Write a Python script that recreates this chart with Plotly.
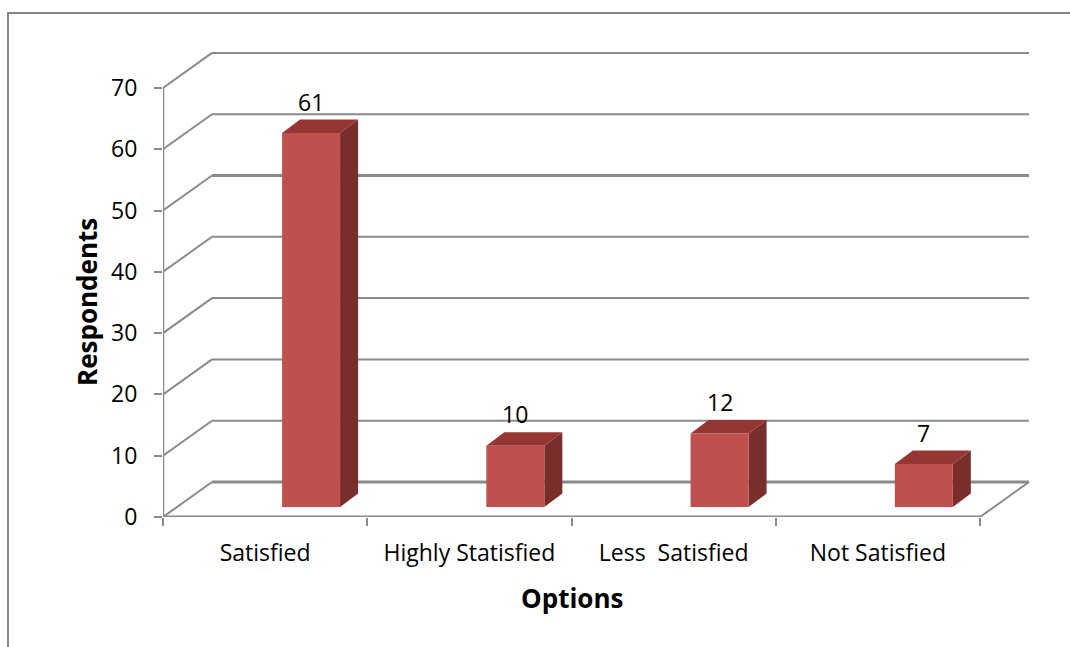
import plotly.graph_objects as go

# ---- data ----
categories = ["Satisfied", "Highly Statisfied", "Less  Satisfied", "Not Satisfied"]
respondents = [61, 10, 12, 7]
y_ticks = [0, 10, 20, 30, 40, 50, 60, 70]

# ---- figure geometry (pixels) ----
W, H = 1070, 647
M_L, M_R, M_T, M_B = 163, 29, 45, 130
PX_PER_CAT = 204.25
PX_PER_UNIT = 6.13
plot_w = W - M_L - M_R
plot_h = H - M_T - M_B
x_range = [-0.5, -0.5 + plot_w / PX_PER_CAT]
y_range = [0, plot_h / PX_PER_UNIT]

# oblique depth of the chart box (data units)
DX = 49 / PX_PER_CAT
DY = 35 / PX_PER_UNIT
# bar placement inside each category
BAR_X0, BAR_X1 = 0.083, 0.367
BAR_BASE = 10 / PX_PER_UNIT
BAR_DX = 18 / PX_PER_CAT
BAR_DY = 13.5 / PX_PER_UNIT

GRID = "#8a8a8a"
FRONT, TOP, SIDE = "#C0504D", "#943634", "#7A2E2C"
FONT = "Open Sans, Lato, sans-serif"

fig = go.Figure()
shapes = []

def seg(x0, y0, x1, y1, width=2, color=GRID):
    shapes.append(dict(type="line", xref="x", yref="y", x0=x0, y0=y0, x1=x1, y1=y1,
                       line=dict(color=color, width=width), layer="below"))

n = len(categories)
x_left, x_right = -0.5, n - 0.5
for v in y_ticks:
    w = 3 if v in (0, 50) else 2
    seg(x_left, v, x_left + DX, v + DY, 2)
    seg(x_left + DX, v + DY, x_right + DX, v + DY, w)
# floor front edge, right edge, and front value axis
seg(x_left, 0, x_right, 0, 3)
seg(x_right, 0, x_right + DX, DY, 2)
seg(x_left, 0, x_left, y_ticks[-1], 2.5)

# 3D bars: side, top, front faces
for i, v in enumerate(respondents):
    x0, x1 = i + BAR_X0, i + BAR_X1
    yb, yt = BAR_BASE, BAR_BASE + v
    fig.add_trace(go.Scatter(
        x=[x1, x1 + BAR_DX, x1 + BAR_DX, x1, x1],
        y=[yb, yb + BAR_DY, yt + BAR_DY, yt, yb],
        fill="toself", fillcolor=SIDE, mode="lines", line=dict(width=0),
        hoverinfo="skip", showlegend=False))
    fig.add_trace(go.Scatter(
        x=[x0, x1, x1 + BAR_DX, x0 + BAR_DX, x0],
        y=[yt, yt, yt + BAR_DY, yt + BAR_DY, yt],
        fill="toself", fillcolor=TOP, mode="lines", line=dict(width=0),
        hoverinfo="skip", showlegend=False))
    fig.add_trace(go.Scatter(
        x=[x0, x1, x1, x0, x0],
        y=[yb, yb, yt, yt, yb],
        fill="toself", fillcolor=FRONT, mode="lines", line=dict(width=0),
        hoverinfo="skip", showlegend=False, name=categories[i]))
    fig.add_annotation(x=(x0 + x1) / 2, y=yt + BAR_DY, text=str(v),
                       showarrow=False, xanchor="center", yanchor="bottom", yshift=0,
                       font=dict(family=FONT, size=23, color="black"))

# outer chart border (left and top edges)
def px_to_paper_x(px):
    return (px - M_L) / plot_w

def px_to_paper_y(py):
    return (H - M_B - py) / plot_h

shapes.append(dict(type="path", xref="paper", yref="paper",
                   path=f"M {px_to_paper_x(8)} {px_to_paper_y(660)} "
                        f"L {px_to_paper_x(8)} {px_to_paper_y(13)} "
                        f"L {px_to_paper_x(1080)} {px_to_paper_y(13)}",
                   line=dict(color="#868686", width=2)))

# axis titles
fig.add_annotation(xref="paper", yref="paper", x=px_to_paper_x(572), y=px_to_paper_y(598),
                   xanchor="center", yanchor="middle",
                   text="<b>Options</b>", showarrow=False,
                   font=dict(family=FONT, size=26, color="black"))
fig.add_annotation(xref="paper", yref="paper", x=px_to_paper_x(87), y=px_to_paper_y(302),
                   xanchor="center", yanchor="middle",
                   text="<b>Respondents</b>", showarrow=False, textangle=-90,
                   font=dict(family=FONT, size=26, color="black"))

fig.update_layout(
    width=W, height=H,
    margin=dict(l=M_L, r=M_R, t=M_T, b=M_B, pad=0),
    paper_bgcolor="white", plot_bgcolor="white",
    shapes=shapes,
    xaxis=dict(range=x_range, showgrid=False, zeroline=False, showline=False,
               tickmode="array", tickvals=list(range(n)), ticktext=categories,
               ticks="", ticklabelstandoff=20,
               tickfont=dict(family=FONT, size=23, color="black"),
               minor=dict(tickmode="array", tickvals=[k - 0.5 for k in range(n + 1)],
                          ticks="outside", ticklen=8, tickwidth=2, tickcolor=GRID,
                          showgrid=False),
               fixedrange=True),
    yaxis=dict(range=y_range, showgrid=False, zeroline=False, showline=False,
               tickmode="array", tickvals=y_ticks,
               ticks="outside", ticklen=8, tickwidth=2, tickcolor=GRID,
               ticklabelstandoff=12,
               tickfont=dict(family=FONT, size=23, color="black"),
               fixedrange=True),
)

fig.write_html("out.html")
